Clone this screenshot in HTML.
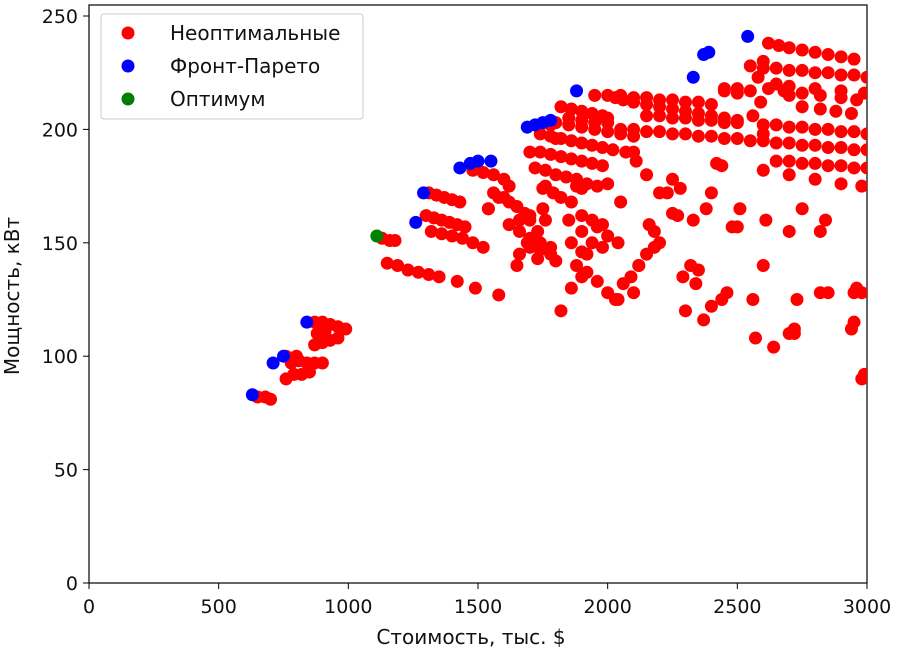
<!DOCTYPE html>
<html><head><meta charset="utf-8"><style>
html,body{margin:0;padding:0;background:#fff;}
svg{display:block;font-family:"DejaVu Sans","Liberation Sans",sans-serif;}
</style></head><body>
<svg id="chart" width="897" height="654" viewBox="0 0 897 654">
<rect x="89" y="5" width="778" height="578" fill="#fff" stroke="#000" stroke-width="1.2"/>
<g id="marks"></g>
<g id="axes"></g>
<text x="471" y="644" text-anchor="middle" font-size="20" fill="#111">Стоимость, тыс. $</text>
<text x="0" y="0" transform="translate(19,296) rotate(-90)" text-anchor="middle" font-size="20" fill="#111">Мощность, кВт</text>
<g>
<rect x="101" y="14" width="262" height="105" rx="3" fill="#fff" fill-opacity="0.8" stroke="#ccc"/>
<g><circle cx="128" cy="33" r="6.5" fill="#ff0000"/><text x="170" y="40" font-size="20" fill="#111">Неоптимальные</text></g>
<g><circle cx="128" cy="66" r="6.5" fill="#0000ff"/><text x="170" y="73" font-size="20" fill="#111">Фронт-Парето</text></g>
<g><circle cx="128" cy="99" r="6.5" fill="#008000"/><text x="170" y="106" font-size="20" fill="#111">Оптимум</text></g>
</g>
</svg>
<script>
const xTicks=[0,500,1000,1500,2000,2500,3000];
const yTicks=[0,50,100,150,200,250];
const redX=[650,680,700,760,790,820,850,780,810,840,870,900,760,800,870,900,930,960,870,900,930,960,990,880,910,
1130,1160,1180,1150,1190,1230,1270,1310,1350,1420,1490,1580,
1310,1340,1370,1400,1430,1300,1330,1360,1390,1420,1450,1320,1360,1400,1440,1480,1520,1480,1520,1560,1600,1560,1540,1600,1620,1650,1680,1700,1620,1660,1700,1740,1780,1660,1700,1740,1780,1730,1760,1790,1820,1860,1880,1900,1940,1980,1900,1940,1980,1920,1960,2000,2040,
1700,1740,1780,1820,1860,1900,1940,1980,2020,1700,1740,1780,1820,1860,1900,1940,1980,1720,1760,1800,1840,1880,1920,1960,1750,1800,1850,1900,1950,2000,2050,2100,1800,1850,1900,1950,1780,1820,1860,1900,1940,1980,2000,2030,2060,2100,2150,2200,2250,2300,2350,2400,2450,2500,
2000,2050,2100,2150,2200,2250,2300,2350,2400,2450,2500,2550,2600,2650,2700,2750,2800,2850,2900,2950,3000,2100,2150,2200,2250,2300,2350,2400,2450,2500,2600,2650,2700,2750,2800,2850,2900,2950,3000,2600,2650,2700,2750,2800,2850,2900,2950,3000,2600,2700,2800,2900,2980,
1900,1950,2000,2050,2100,2150,2200,2250,2300,2350,2400,2450,2500,2550,2450,2500,2550,2600,2650,2700,2750,2800,2850,2900,2950,3000,2580,2620,2660,2700,2750,2800,2850,2900,2950,2600,2650,2700,2800,2900,2990,2700,2750,2820,2880,2940,2560,2620,2680,2750,2820,2900,2960,
2590,2610,2600,2560,2570,2640,2700,2720,2720,2730,2820,2850,2950,2980,2960,2940,2950,2980,2990,2840,2820,2700,2750,
2380,2400,2440,2460,2340,2370,2300,2290,2320,2350,2330,2270,2250,2200,2160,2180,2150,2120,2090,2060,2100,2120,2180,2230,2400,2420,2440,2480,2500,2510,1850,1880,1920,1960,2000,2040,1820,1860,1900,1800,1750,1700,1660,1620,1580,1540,1760,1730,1690,1650,1900,1860,2030,2070,2110,2150,2000,2050,2200,2250,2280];
const redY=[82,82,81,90,92,92,93,97,98,97,97,97,100,100,105,106,107,108,115,115,114,113,112,110,111,
152,151,151,141,140,138,137,136,135,133,130,127,
172,171,170,169,168,162,161,160,159,158,157,155,154,153,152,150,148,182,181,180,178,172,165,170,168,166,163,160,158,155,152,150,148,145,150,147,145,143,175,172,170,168,175,162,160,158,155,150,148,145,157,153,150,148,
198,197,196,195,194,193,192,191,190,190,189,188,187,186,185,184,183,182,180,179,178,176,175,174,203,202,201,200,199,198,197,196,205,204,203,202,210,209,208,207,206,205,214,213,212,211,210,209,208,207,206,205,204,203,
200,200,199,199,198,198,197,197,196,196,195,195,194,194,193,193,192,192,191,191,190,206,206,205,205,204,204,203,203,202,202,201,201,200,200,199,199,198,198,186,186,185,185,184,184,183,183,182,180,178,176,175,174,
215,215,215,214,214,213,213,212,212,211,218,218,217,217,216,228,227,227,226,226,225,225,224,224,223,223,238,237,236,235,234,233,232,231,230,220,219,218,217,216,215,210,209,208,207,206,218,217,216,215,214,213,212,
160,140,125,108,104,110,112,110,125,128,128,128,128,130,112,115,90,92,160,155,155,165,165,
122,125,128,132,116,120,135,140,138,160,162,163,150,158,148,145,140,135,132,128,140,155,172,172,185,184,157,157,165,160,140,137,133,128,125,120,150,146,142,165,162,160,175,170,165,160,155,150,140,135,130,125,190,186,180,176,168,172,178,174,160,165,163];
const paretoX=[630,710,750,840,1260,1290,1430,1470,1500,1550,1690,1720,1750,1780,1880,2330,2370,2390,2540];
const paretoY=[83,97,100,115,159,172,183,185,186,186,201,202,203,204,217,223,233,234,241];
const optimumX=[1110];
const optimumY=[153];
const X0=89,X1=867,Y0=583,Y1=16;
const sx=v=>X0+(v-0)/(3000-0)*(X1-X0);
const sy=v=>Y0-(v-0)/(250-0)*(Y0-Y1);
const NS="http://www.w3.org/2000/svg";
const marks=document.getElementById('marks');
const axes=document.getElementById('axes');
function pts(xs,ys,color,name){
  const g=document.createElementNS(NS,'g');
  
  
  for(let i=0;i<xs.length;i++){
    const c=document.createElementNS(NS,'circle');
    c.setAttribute('cx',sx(xs[i]));c.setAttribute('cy',sy(ys[i]));
    c.setAttribute('r',6.5);c.setAttribute('fill',color);
    
    
    g.appendChild(c);
  }
  marks.appendChild(g);
}
pts(redX,redY,'#ff0000','nonoptimal');
pts(paretoX,paretoY,'#0000ff','pareto');
pts(optimumX,optimumY,'#008000','optimum');
const cp=document.createElementNS(NS,'clipPath');cp.id='clip';
const cr=document.createElementNS(NS,'rect');cr.setAttribute('x',X0);cr.setAttribute('y',5);cr.setAttribute('width',X1-X0);cr.setAttribute('height',578);
cp.appendChild(cr);document.getElementById('chart').appendChild(cp);
marks.setAttribute('clip-path','url(#clip)');
xTicks.forEach(t=>{
  const l=document.createElementNS(NS,'line');
  l.setAttribute('x1',sx(t));l.setAttribute('x2',sx(t));l.setAttribute('y1',Y0);l.setAttribute('y2',Y0+6);l.setAttribute('stroke','#000');
  
  
  axes.appendChild(l);
  const tx=document.createElementNS(NS,'text');
  tx.setAttribute('x',sx(t));tx.setAttribute('y',Y0+30);tx.setAttribute('text-anchor','middle');tx.setAttribute('font-size','19');tx.setAttribute('fill','#111');
  
  
  tx.textContent=t;axes.appendChild(tx);
});
yTicks.forEach(t=>{
  const l=document.createElementNS(NS,'line');
  l.setAttribute('x1',X0-6);l.setAttribute('x2',X0);l.setAttribute('y1',sy(t));l.setAttribute('y2',sy(t));l.setAttribute('stroke','#000');
  
  
  axes.appendChild(l);
  const tx=document.createElementNS(NS,'text');
  tx.setAttribute('x',X0-11);tx.setAttribute('y',sy(t)+7);tx.setAttribute('text-anchor','end');tx.setAttribute('font-size','19');tx.setAttribute('fill','#111');
  
  
  tx.textContent=t;axes.appendChild(tx);
});
</script>
</body></html>
